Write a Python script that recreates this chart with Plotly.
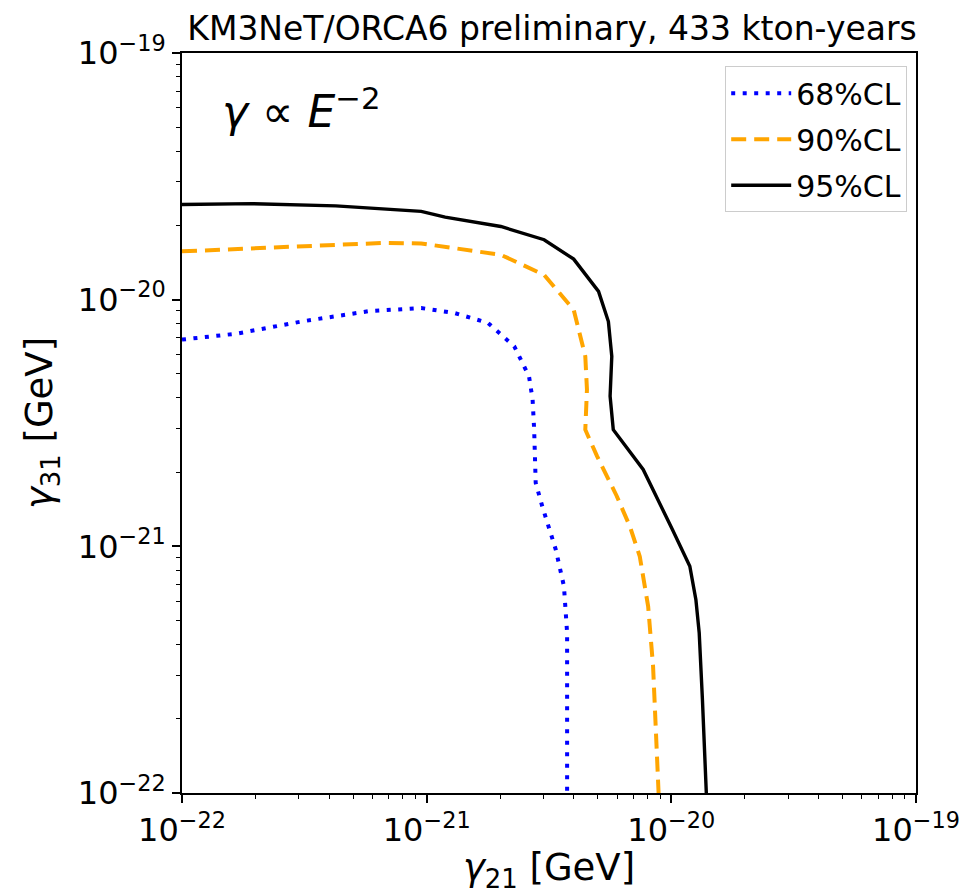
import plotly.graph_objects as go

# 68% CL contour
gamma21_68 = [1.0e-22, 1.67e-22, 3.11e-22, 5.79e-22, 9.5e-22, 1.30e-21, 1.78e-21, 2.28e-21,
              2.62e-21, 2.71e-21, 2.75e-21, 2.79e-21, 2.97e-21, 3.37e-21, 3.64e-21, 3.75e-21,
              3.75e-21, 3.75e-21]
gamma31_68 = [6.89e-21, 7.28e-21, 8.17e-21, 8.98e-21, 9.25e-21, 8.83e-21, 8.05e-21, 6.47e-21,
              4.89e-21, 3.94e-21, 2.97e-21, 1.81e-21, 1.45e-21, 9.7e-22, 6.89e-22, 4.46e-22,
              2.39e-22, 1.0e-22]

# 90% CL contour
gamma21_90 = [1.0e-22, 2.28e-22, 6.78e-22, 9.5e-22, 2.01e-21, 3.02e-21, 3.99e-21, 4.45e-21,
              4.52e-21, 4.45e-21, 4.97e-21, 5.98e-21, 6.78e-21, 7.43e-21, 8.04e-21, 8.42e-21,
              8.68e-21, 8.87e-21]
gamma31_90 = [1.57e-20, 1.62e-20, 1.70e-20, 1.69e-20, 1.52e-20, 1.26e-20, 9.1e-21, 5.89e-21,
              4.32e-21, 2.97e-21, 2.32e-21, 1.60e-21, 1.20e-21, 9.1e-22, 5.71e-22, 3.27e-22,
              1.75e-22, 1.0e-22]

# 95% CL contour
gamma21_95 = [1.0e-22, 1.95e-22, 4.25e-22, 9.5e-22, 1.19e-21, 2.01e-21, 3.02e-21, 3.99e-21,
              5.04e-21, 5.53e-21, 5.71e-21, 5.62e-21, 5.79e-21, 7.67e-21, 1.01e-20, 1.19e-20,
              1.26e-20, 1.30e-20, 1.34e-20, 1.39e-20]
gamma31_95 = [2.43e-20, 2.45e-20, 2.40e-20, 2.28e-20, 2.16e-20, 1.98e-20, 1.75e-20, 1.46e-20,
              1.08e-20, 8.15e-21, 5.89e-21, 4.06e-21, 2.97e-21, 2.05e-21, 1.17e-21, 8.3e-22,
              6.08e-22, 4.46e-22, 2.39e-22, 1.0e-22]

decades = [1e-22, 1e-21, 1e-20, 1e-19]
decade_labels = ["10<sup>−22</sup>", "10<sup>−21</sup>", "10<sup>−20</sup>", "10<sup>−19</sup>"]
minor_vals = [m * d for d in decades[:-1] for m in range(2, 10)]

FONT = "DejaVu Sans"

fig = go.Figure()
fig.add_trace(go.Scatter(x=gamma21_68, y=gamma31_68, mode="lines", name="68%CL",
                         legendgroup="cl68",
                         line=dict(color="#0000ff", width=4, dash="4px,7.5px")))
fig.add_trace(go.Scatter(x=gamma21_90, y=gamma31_90, mode="lines", name="90%CL",
                         legendgroup="cl90",
                         line=dict(color="#ffa500", width=4, dash="15px,8px")))
fig.add_trace(go.Scatter(x=gamma21_95, y=gamma31_95, mode="lines", name="95%CL",
                         legendgroup="cl95",
                         line=dict(color="#000000", width=3.4)))

axis_common = dict(
    type="log",
    range=[-22, -19],
    tickvals=decades,
    ticktext=decade_labels,
    ticks="outside",
    ticklen=8,
    tickwidth=1.5,
    tickcolor="#000",
    showline=True,
    linecolor="#000",
    linewidth=1.5,
    mirror=True,
    showgrid=False,
    zeroline=False,
    tickfont=dict(family=FONT, size=32, color="#000"),
    minor=dict(tickvals=minor_vals, ticks="outside", ticklen=4, tickwidth=1.2,
               tickcolor="#000", showgrid=False),
)

fig.update_layout(
    width=972,
    height=894,
    margin=dict(l=182, r=50, t=53, b=101),
    paper_bgcolor="#fff",
    plot_bgcolor="#fff",
    title=dict(text="KM3NeT/ORCA6 preliminary, 433 kton-years",
               x=(182 + 922) / 2 / 972, xanchor="center", y=1 - 28 / 894, yanchor="middle",
               font=dict(family=FONT, size=33, color="#000")),
    xaxis=dict(axis_common,
               title=dict(text="<i>γ</i><sub>21</sub> [GeV]", standoff=4,
                          font=dict(family=FONT, size=37, color="#000"))),
    yaxis=dict(axis_common,
               title=dict(text="<i>γ</i><sub>31</sub> [GeV]", standoff=14,
                          font=dict(family=FONT, size=37, color="#000"))),
    legend=dict(x=0.988, y=0.982, xanchor="right", yanchor="top",
                bgcolor="rgba(255,255,255,0.9)", bordercolor="#cccccc", borderwidth=1,
                font=dict(family=FONT, size=30, color="#000"), itemwidth=60,
                tracegroupgap=4),
    showlegend=True,
)

fig.add_annotation(text="<i>γ</i> ∝ <i>E</i><sup>−2</sup>", xref="paper", yref="paper",
                   x=0.052, y=0.925, xanchor="left", yanchor="middle", showarrow=False,
                   font=dict(family=FONT, size=44, color="#000"))

fig.write_html("out.html")
